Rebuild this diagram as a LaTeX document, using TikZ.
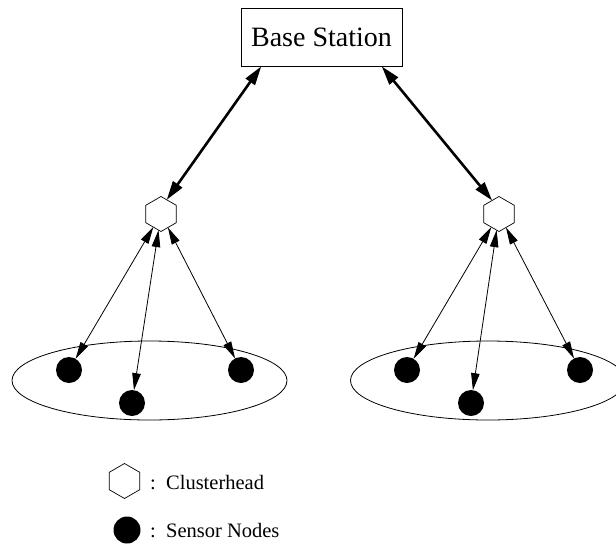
\documentclass[tikz,border=0pt]{standalone}
\usepackage{fontspec}
\setmainfont{Liberation Serif}
\usetikzlibrary{shapes.geometric,arrows.meta}
\begin{document}
\begin{tikzpicture}[x=1pt,y=-1pt,
  hexnode/.style={regular polygon, regular polygon sides=6, shape border rotate=30,
    minimum size=35pt, inner sep=0pt, outer sep=0pt, draw, line width=0.7pt},
  sensor/.style={circle, fill=black, minimum size=26pt, inner sep=0pt, outer sep=0pt},
  thicklink/.style={{Triangle[length=19pt,width=11pt]}-{Triangle[length=19pt,width=11pt]}, line width=2.6pt},
  thinlink/.style={{Triangle[length=17pt,width=8.5pt]}-{Triangle[length=17pt,width=8.5pt]}, line width=0.8pt},
  cluster/.style={ellipse, draw, line width=0.8pt, minimum width=275pt, minimum height=79pt, inner sep=0pt},
  legendtext/.style={anchor=west, font=\fontsize{20.5}{24}\selectfont, inner sep=0pt}]
\useasboundingbox (0,0) rectangle (616,544);

% base station
\node[draw, line width=0.8pt, minimum width=161pt, minimum height=58pt, inner sep=0pt,
  font=\fontsize{28}{30}\selectfont] (bs) at (321.5,37) {Base Station};

% clusters
\node[cluster] (e1) at (149.5,380.5) {};
\node[cluster] (e2) at (488,380.5) {};

% clusterheads
\node[hexnode] (h1) at (161,214) {};
\node[hexnode] (h2) at (499,214) {};

% sensors
\node[sensor] (a1) at (69,370) {};
\node[sensor] (a2) at (132,403) {};
\node[sensor] (a3) at (241,370) {};
\node[sensor] (b1) at (407,370) {};
\node[sensor] (b2) at (471,403) {};
\node[sensor] (b3) at (580,370) {};

% links
\draw[thicklink] (bs.206) -- (h1.68);
\draw[thicklink] (bs.-26) -- (h2.117);
\draw[thinlink] (h1) -- (a1);
\draw[thinlink] (h1) -- (a2);
\draw[thinlink] (h1) -- (a3);
\draw[thinlink] (h2) -- (b1);
\draw[thinlink] (h2) -- (b2);
\draw[thinlink] (h2) -- (b3);

% legend
\node[hexnode] (lh) at (124.5,481) {};
\node[legendtext] (lht) at (150,483) {:\ \ Clusterhead};
\node[sensor, minimum size=27pt] (ls) at (127,530) {};
\node[legendtext] (lst) at (150,531) {:\ \ Sensor Nodes};
\end{tikzpicture}
\end{document}
